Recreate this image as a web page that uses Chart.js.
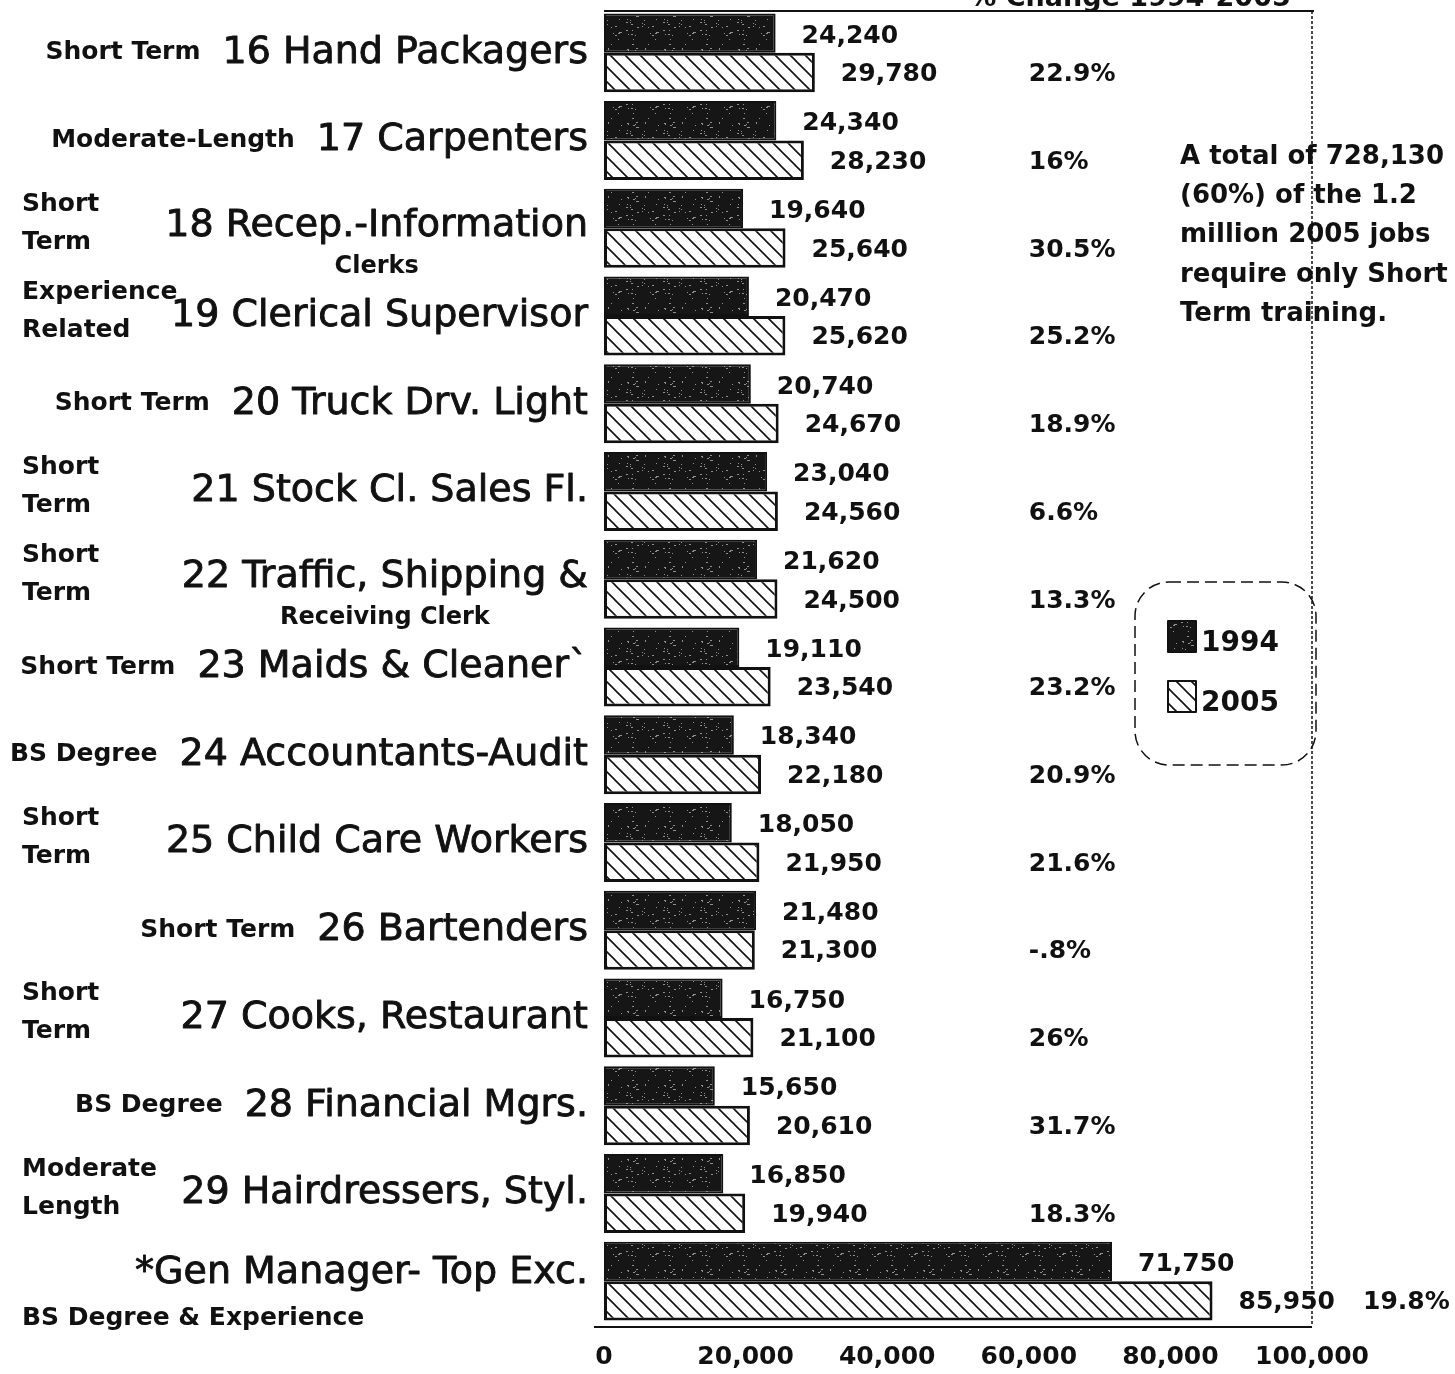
<!DOCTYPE html>
<html>
<head>
<meta charset="utf-8">
<script src="https://cdn.jsdelivr.net/npm/chart.js@4"></script>
<style>
  body { margin: 0; background: #fff; overflow: hidden; }
</style>
</head>
<body>
<canvas id="myChart" width="1455" height="1374"></canvas>
<script>
// occupations, 16-29 plus general managers
const categories = [
  '16 Hand Packagers', '17 Carpenters', ['18 Recep.-Information', 'Clerks'],
  '19 Clerical Supervisor', '20 Truck Drv. Light', '21 Stock Cl. Sales Fl.',
  ['22 Traffic, Shipping &', 'Receiving Clerk'], '23 Maids & Cleaner`',
  '24 Accountants-Audit', '25 Child Care Workers', '26 Bartenders',
  '27 Cooks, Restaurant', '28 Financial Mgrs.', '29 Hairdressers, Styl.',
  '*Gen Manager- Top Exc.'
];
const training = [
  'Short Term', 'Moderate-Length', ['Short', 'Term'], ['Experience', 'Related'],
  'Short Term', ['Short', 'Term'], ['Short', 'Term'], 'Short Term', 'BS Degree',
  ['Short', 'Term'], 'Short Term', ['Short', 'Term'], 'BS Degree',
  ['Moderate', 'Length'], 'BS Degree & Experience'
];
const jobs1994 = [24240, 24340, 19640, 20470, 20740, 23040, 21620, 19110, 18340, 18050, 21480, 16750, 15650, 16850, 71750];
const jobs2005 = [29780, 28230, 25640, 25620, 24670, 24560, 24500, 23540, 22180, 21950, 21300, 21100, 20610, 19940, 85950];
const pctChange = ['22.9%', '16%', '30.5%', '25.2%', '18.9%', '6.6%', '13.3%', '23.2%', '20.9%', '21.6%', '-.8%', '26%', '31.7%', '18.3%', '19.8%'];
const xTicks = [0, 20000, 40000, 60000, 80000, 100000];
const seriesNames = ['1994', '2005'];
const pctTitle = '% Change 1994-2005';
const noteLines = ['A total of 728,130', '(60%) of the 1.2', 'million 2005 jobs', 'require only Short', 'Term training.'];

const FONT = '"DejaVu Sans", sans-serif';
const ctx = document.getElementById('myChart').getContext('2d');

function fmt(v) {
  return v.toLocaleString('en-US');
}

// dark speckled fill used for 1994
function makeStipple() {
  const s = 37;
  const c = document.createElement('canvas');
  c.width = s; c.height = s;
  const g = c.getContext('2d');
  g.fillStyle = '#161616';
  g.fillRect(0, 0, s, s);
  g.fillStyle = '#909090';
  for (let i = 0; i < 40; i++) {
    const px = (i * i * 5 + i * 11 + 3) % s;
    const py = (i * i * 3 + i * 17 + 7) % s;
    g.fillRect(px, py, 1 + (i % 3 === 0), 1);
  }
  return ctx.createPattern(c, 'repeat');
}

// white fill with "\" hatching used for 2005
function makeHatch() {
  const s = 15;
  const c = document.createElement('canvas');
  c.width = s; c.height = s;
  const g = c.getContext('2d');
  g.fillStyle = '#fff';
  g.fillRect(0, 0, s, s);
  g.strokeStyle = '#111';
  g.lineWidth = 1.6;
  g.beginPath();
  g.moveTo(0, 0); g.lineTo(s, s);
  g.moveTo(-2, s - 2); g.lineTo(2, s + 2);
  g.moveTo(s - 2, -2); g.lineTo(s + 2, 2);
  g.stroke();
  return ctx.createPattern(c, 'repeat');
}

const stipple = makeStipple();
const hatch = makeHatch();

function boldText(c, t, x, y, w) {
  c.lineWidth = w;
  c.strokeText(t, x, y);
  c.fillText(t, x, y);
}

const decor = {
  id: 'decor',
  afterDraw(chart) {
    const c = chart.ctx;
    const area = chart.chartArea;
    const y = chart.scales.y;
    const x = chart.scales.x;
    c.save();
    c.fillStyle = '#111';
    c.strokeStyle = '#111';
    c.lineJoin = 'round';

    // frame
    c.lineWidth = 2;
    c.beginPath();
    c.moveTo(area.left, 11); c.lineTo(area.right + 2, 11);
    c.moveTo(area.left - 10, area.bottom + 2); c.lineTo(area.right, area.bottom + 2);
    c.stroke();
    c.lineWidth = 1.5;
    c.setLineDash([3, 2]);
    c.beginPath();
    c.moveTo(area.right, 11); c.lineTo(area.right, area.bottom);
    c.stroke();
    c.setLineDash([]);

    // title (cut off at the top)
    c.font = 'bold 27px ' + FONT;
    c.textAlign = 'center';
    c.textBaseline = 'alphabetic';
    c.fillText(pctTitle, 1130, 6);

    // row labels
    const nameRight = area.left - 16;
    categories.forEach((cat, i) => {
      const cy = y.getPixelForValue(i);
      const lines = Array.isArray(cat) ? cat : [cat];
      c.font = '38px ' + FONT;
      c.textBaseline = 'middle';
      const nameW = c.measureText(lines[0]).width;
      const nameLeft = nameRight - nameW;
      const tr = training[i];
      c.font = 'bold 25px ' + FONT;
      let below = false;
      if (Array.isArray(tr)) {
        c.textAlign = 'left';
        c.fillText(tr[0], 22, cy - 24);
        c.fillText(tr[1], 22, cy + 14);
      } else {
        const tw = c.measureText(tr).width;
        if (nameLeft - 22 - tw < 0) {
          below = true;
          c.textAlign = 'left';
          c.fillText(tr, 22, cy + 37);
        } else {
          c.textAlign = 'right';
          c.fillText(tr, nameLeft - 22, cy);
        }
      }
      c.font = '38px ' + FONT;
      c.textAlign = 'right';
      boldText(c, lines[0], nameRight, cy - (below ? 8 : (lines.length > 1 ? 2 : 0)), 0.9);
      if (lines.length > 1) {
        c.font = 'bold 24px ' + FONT;
        c.textAlign = 'center';
        c.fillText(lines[1], nameLeft + nameW / 2, cy + 38);
      }
    });

    // value labels and % change
    c.font = 'bold 25px ' + FONT;
    c.textAlign = 'left';
    c.textBaseline = 'middle';
    const m0 = chart.getDatasetMeta(0).data;
    const m1 = chart.getDatasetMeta(1).data;
    const pctX = x.getPixelForValue(60000);
    jobs1994.forEach((v, i) => {
      c.fillText(fmt(v), m0[i].x + 26, m0[i].y + 3);
      const t = fmt(jobs2005[i]);
      const tx = m1[i].x + 26;
      c.fillText(t, tx, m1[i].y + 2);
      const end = tx + c.measureText(t).width + 28;
      c.fillText(pctChange[i], Math.max(pctX, end), m1[i].y + 2);
    });

    // note
    c.font = 'bold 26px ' + FONT;
    noteLines.forEach((t, k) => c.fillText(t, 1180, 157 + k * 39.3));

    // legend box
    c.lineWidth = 1.5;
    c.setLineDash([12, 6]);
    c.beginPath();
    c.roundRect(1135, 582, 181, 183, 34);
    c.stroke();
    c.setLineDash([]);
    const fills = [stipple, hatch];
    seriesNames.forEach((nm, k) => {
      const sy = 621 + k * 60;
      c.fillStyle = fills[k];
      c.fillRect(1168, sy, 28, 31);
      c.lineWidth = 2;
      c.strokeRect(1168, sy, 28, 31);
      c.fillStyle = '#111';
      c.font = 'bold 28px ' + FONT;
      c.fillText(nm, 1201, sy + 23);
    });
    c.restore();
  }
};

new Chart(ctx, {
  type: 'bar',
  data: {
    labels: categories,
    datasets: [{
      label: seriesNames[0],
      data: jobs1994,
      backgroundColor: stipple,
      borderColor: '#111',
      borderWidth: 2,
      borderSkipped: false
    }, {
      label: seriesNames[1],
      data: jobs2005,
      backgroundColor: hatch,
      borderColor: '#111',
      borderWidth: 3,
      borderSkipped: false
    }]
  },
  options: {
    indexAxis: 'y',
    responsive: false,
    animation: false,
    devicePixelRatio: 1,
    categoryPercentage: 0.9,
    barPercentage: 1,
    layout: { padding: { left: 604, right: 143, top: 9, bottom: -15 } },
    plugins: { legend: { display: false }, tooltip: { enabled: false } },
    scales: {
      x: {
        min: 0,
        max: 100000,
        afterBuildTicks: (s) => { s.ticks = xTicks.map(v => ({ value: v })); },
        grid: { display: false, drawTicks: false },
        border: { display: false },
        ticks: {
          padding: 17,
          maxRotation: 0,
          color: '#111',
          font: { family: FONT, size: 25, weight: 'bold' },
          callback: (v) => fmt(v)
        }
      },
      y: { display: false }
    }
  },
  plugins: [decor]
});
</script>
</body>
</html>
